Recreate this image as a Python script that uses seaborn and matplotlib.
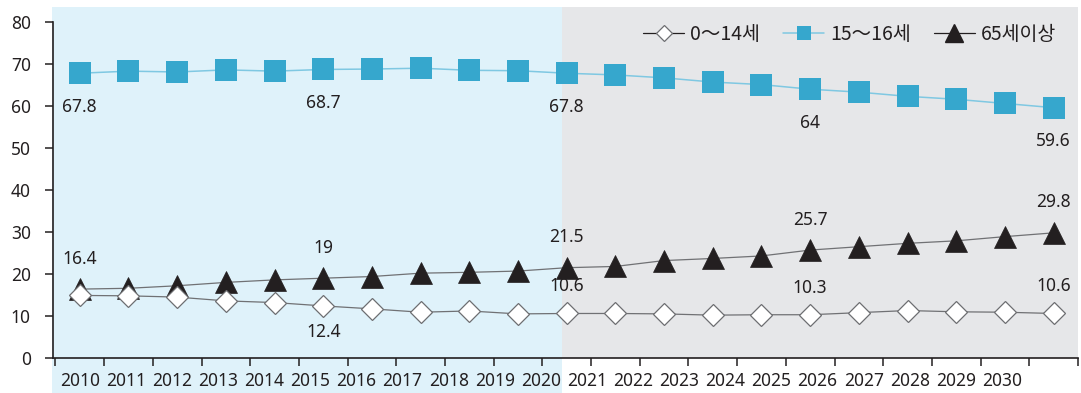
import numpy as np
import pandas as pd
import matplotlib
matplotlib.use("Agg")
import matplotlib.pyplot as plt
from matplotlib.lines import Line2D
import seaborn as sns

# ---- data ----
years = [str(y) for y in range(2010, 2031)]
child = [14.9, 14.8, 14.5, 13.6, 13.2, 12.4, 11.7, 10.9, 11.2, 10.5, 10.6,
         10.6, 10.5, 10.2, 10.3, 10.3, 10.8, 11.3, 11.0, 10.9, 10.6]
working = [67.8, 68.3, 68.1, 68.6, 68.3, 68.7, 68.8, 69.0, 68.5, 68.4, 67.8,
           67.4, 66.7, 65.7, 65.1, 64.0, 63.3, 62.3, 61.6, 60.6, 59.6]
elderly = [16.4, 16.6, 17.2, 18.0, 18.6, 19.0, 19.4, 20.2, 20.4, 20.7, 21.5,
           21.8, 23.2, 23.7, 24.3, 25.7, 26.5, 27.3, 27.9, 28.9, 29.8]
series_names = ["0～14세", "15～16세", "65세이상"]
label_idx_working = [0, 5, 10, 15, 20]
label_idx_elderly = [0, 5, 10, 15, 20]
label_idx_child_below = [5]
label_idx_child_above = [10, 15, 20]
y_ticks = [0, 10, 20, 30, 40, 50, 60, 70, 80]

sns.set_theme(style="ticks")
plt.rcParams["font.family"] = ["Noto Sans", "Noto Sans CJK KR", "DejaVu Sans"]

TXT = "#231f20"
BLUE_BG = "#dff2fa"
GRAY_BG = "#e6e7e9"
SQ = "#36a7cd"
SQ_LINE = "#7fc8e2"
GRAY_LINE = "#707174"

fig = plt.figure(figsize=(10.81, 3.93), dpi=100)
ax = fig.add_axes([53 / 1081, 1 - 358 / 393, 1025 / 1081, 336 / 393])
ax.set_facecolor("none")

x = np.arange(len(years))
df = pd.DataFrame({"x": x, "child": child, "working": working, "elderly": elderly})

# backgrounds
ax.axvspan(-0.57, 9.9, ymin=-0.105, ymax=1.045, color=BLUE_BG, clip_on=False, zorder=0, lw=0)
ax.axvspan(9.9, 20.5, ymin=0, ymax=1.045, color=GRAY_BG, clip_on=False, zorder=0, lw=0)

sns.lineplot(data=df, x="x", y="working", ax=ax, color=SQ_LINE, lw=1.1,
             marker="s", markersize=15.5, markerfacecolor=SQ, markeredgecolor=SQ,
             markeredgewidth=0, zorder=3, legend=False)
sns.lineplot(data=df, x="x", y="elderly", ax=ax, color=GRAY_LINE, lw=0.9,
             marker="^", markersize=15.5, markerfacecolor=TXT, markeredgecolor=TXT,
             markeredgewidth=0.5, zorder=4, legend=False)
sns.lineplot(data=df, x="x", y="child", ax=ax, color=GRAY_LINE, lw=0.9,
             marker="D", markersize=11, markerfacecolor="white", markeredgecolor="#6d6e71",
             markeredgewidth=0.9, zorder=5, legend=False)

fs = 12.5
def fmt(v):
    return "{:g}".format(v)

for i in label_idx_working:
    ax.annotate(fmt(working[i]), (x[i], working[i]), xytext=(0, -24), textcoords="offset points",
                ha="center", va="center", fontsize=fs, color=TXT, zorder=6)
for i in label_idx_elderly:
    ax.annotate(fmt(elderly[i]), (x[i], elderly[i]), xytext=(0, 22), textcoords="offset points",
                ha="center", va="center", fontsize=fs, color=TXT, zorder=6)
for i in label_idx_child_below:
    ax.annotate(fmt(child[i]), (x[i], child[i]), xytext=(0, -18.5), textcoords="offset points",
                ha="center", va="center", fontsize=fs, color=TXT, zorder=6)
for i in label_idx_child_above:
    ax.annotate(fmt(child[i]), (x[i], child[i]), xytext=(0, 19.5), textcoords="offset points",
                ha="center", va="center", fontsize=fs, color=TXT, zorder=6)

ax.set_xlim(-0.55, 20.5)
ax.set_ylim(0, 80)
ax.set_yticks(y_ticks)
ax.set_yticklabels([str(v) for v in y_ticks])
ax.set_xticks(np.arange(len(years)) * 0.947)
ax.set_xticklabels(years)
ax.set_xticks(np.arange(-0.5, 20.6, 1.0), minor=True)
ax.tick_params(axis="x", which="major", length=0, pad=10, labelsize=fs, colors=TXT)
ax.tick_params(axis="x", which="minor", length=6, width=1.1, direction="out", color=TXT)
ax.tick_params(axis="y", which="major", length=6, width=1.1, direction="out", pad=10,
               labelsize=fs, colors=TXT)
ax.set_xlabel("")
ax.set_ylabel("")
sns.despine(ax=ax, top=True, right=True)
for s in ["left", "bottom"]:
    ax.spines[s].set_color(TXT)
    ax.spines[s].set_linewidth(1.2)
    ax.spines[s].set_zorder(7)

handles = [
    Line2D([], [], color=TXT, lw=0.9, marker="D", markersize=8.5,
           markerfacecolor="white", markeredgecolor="#6d6e71", markeredgewidth=0.9),
    Line2D([], [], color=SQ_LINE, lw=1.1, marker="s", markersize=10,
           markerfacecolor=SQ, markeredgewidth=0),
    Line2D([], [], color=TXT, lw=0.9, marker="^", markersize=12.5,
           markerfacecolor=TXT, markeredgecolor=TXT),
]
leg = ax.legend(handles, series_names, loc="center right", bbox_to_anchor=(0.986, 0.962),
                ncol=3, frameon=False, handlelength=2.1, handletextpad=0.3,
                columnspacing=1.2, borderaxespad=0,
                prop={"family": ["Noto Sans CJK KR"], "size": 14})
for t in leg.get_texts():
    t.set_color(TXT)

fig.savefig("out.png", dpi=100)
